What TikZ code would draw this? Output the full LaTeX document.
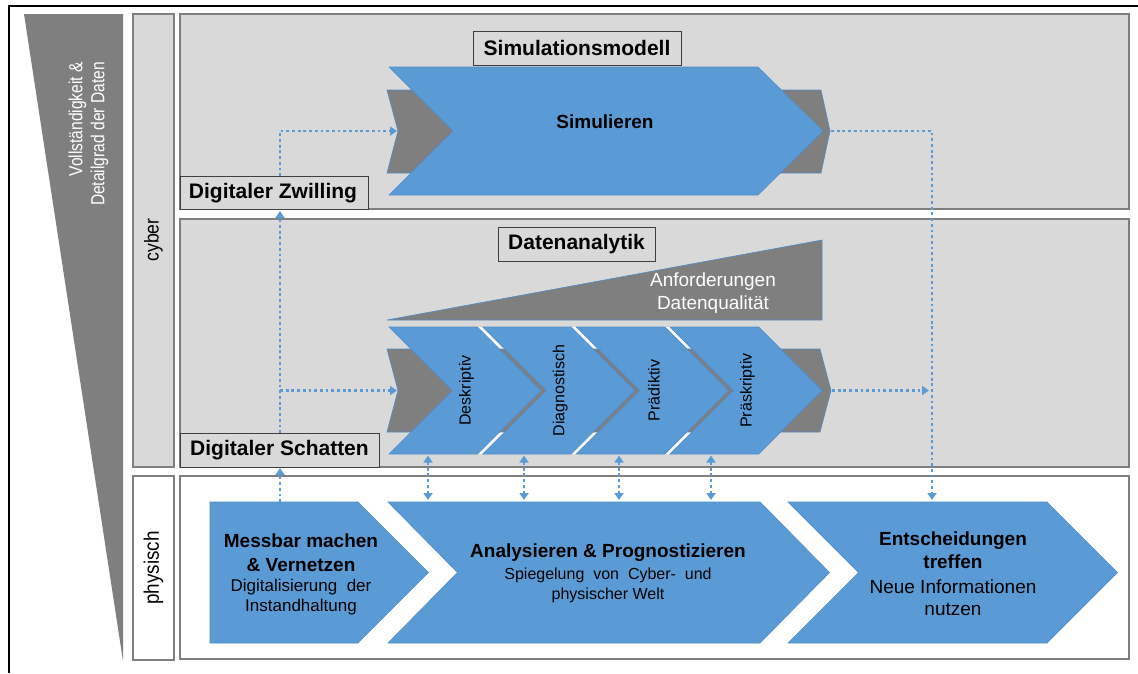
\documentclass[tikz,border=0pt]{standalone}
\usepackage{fontspec}
\setmainfont{Liberation Sans}
\usetikzlibrary{arrows.meta}

\definecolor{panelgray}{HTML}{D9D9D9}
\definecolor{edgegray}{HTML}{7F7F7F}
\definecolor{shapegray}{HTML}{7F7F7F}
\definecolor{chevblue}{HTML}{5B9BD5}
\definecolor{chevedge}{HTML}{4F8DC9}
\definecolor{boxedge}{HTML}{3F3F3F}

% narrow setting for the rotated side labels
\newcommand{\narrowtext}[2]{\scalebox{#1}[1]{\begin{tabular}{@{}r@{}}#2\end{tabular}}}

\tikzset{
  panel/.style={fill=panelgray, draw=edgegray, line width=1.2pt},
  wpanel/.style={fill=white, draw=edgegray, line width=1.2pt},
  labelbox/.style={fill=panelgray, draw=boxedge, line width=1pt},
  titletext/.style={font=\fontsize{21}{25}\selectfont\bfseries, inner sep=0pt},
  bluechev/.style={fill=chevblue, draw=chevedge, line width=0.6pt},
  graychev/.style={fill=shapegray, draw=chevedge, line width=0.6pt},
  boldtext/.style={font=\fontsize{19}{24}\selectfont\bfseries, align=center, inner sep=0pt},
  stagetext/.style={font=\fontsize{16}{19}\selectfont, rotate=90, inner sep=0pt},
  sidetext/.style={rotate=90, inner sep=0pt},
  flow/.style={draw=chevblue, line width=2.8pt, dash pattern=on 2.8pt off 2.9pt},
  flowtip/.style={flow, -{Triangle[width=9pt,length=7pt]}},
  flowboth/.style={flow, {Triangle[width=9pt,length=7pt]}-{Triangle[width=9pt,length=7pt]}},
}

\begin{document}
\begin{tikzpicture}[x=1pt, y=-1pt]
\useasboundingbox (0,0) rectangle (1138,673);

% outer frame
\draw[line width=2pt] (9,673) -- (9,6) -- (1138,6);

% wedge: completeness and level of detail of the data
\fill[shapegray] (24,14) -- (123,14) -- (123,661) -- cycle;
\node[sidetext, anchor=east, text=white,
      font=\fontsize{19}{22}\selectfont] (wedgelabel) at (89,62)
  {\narrowtext{0.82}{Vollständigkeit \&\\Detailgrad der Daten}};

% side labels
\draw[panel] (133,14) rectangle (174,467);
\node[sidetext, font=\fontsize{20}{22}\selectfont] (cyber) at (153.5,240) {\scalebox{0.88}[1]{cyber}};
\draw[wpanel] (133,476) rectangle (174,660);
\node[sidetext, font=\fontsize{21}{22}\selectfont] (physisch) at (153.5,568) {\scalebox{0.9}[1]{physisch}};

% layers
\draw[panel] (180,14) rectangle (1129,209);
\draw[panel] (180,219) rectangle (1129,467);
\draw[wpanel] (180,476) rectangle (1129,659);

% ---------- simulation layer ----------
\draw[labelbox] (473,31) rectangle (681,65);
\node[titletext] (simmodell) at (577,48) {Simulationsmodell};

\draw[graychev] (387,90) -- (821,90) -- (830,131) -- (821,173) -- (387,173) -- (398,131) -- cycle;
\draw[bluechev] (389,67) -- (758,67) -- (823,131) -- (758,195) -- (389,195) -- (453,131) -- cycle;
\node[boldtext] (simulieren) at (605,122) {Simulieren};

\draw[labelbox] (180,176) rectangle (368,209);
\node[titletext] (zwilling) at (273,193) {Digitaler Zwilling};

% ---------- analytics layer ----------
\draw[labelbox] (498,227) rectangle (655,261);
\node[titletext] (analytik) at (576.5,244) {Datenanalytik};

\fill[shapegray] (387,320) -- (822,240) -- (822,320) -- cycle;
\draw[chevedge, line width=0.6pt] (387,320) -- (822,240) -- (822,320) -- cycle;
\node[font=\fontsize{19}{23}\selectfont, align=center, text=white, inner sep=0pt]
  (anforderung) at (713,293.5) {Anforderungen\\Datenqualität};

\fill[white!92!panelgray] (389,327) -- (758,327) -- (822,390.5) -- (758,454) -- (389,454) -- (453,390.5) -- cycle;
\draw[graychev] (387,349) -- (820,349) -- (831,390.5) -- (820,432) -- (387,432) -- (398,390.5) -- cycle;
\foreach \k/\lbl in {0/Deskriptiv, 1/Diagnostisch, 2/Prädiktiv, 3/Präskriptiv} {
  \pgfmathsetmacro{\xa}{389+93.7*\k}
  \draw[bluechev] (\xa,327) -- (\xa+88.5,327) -- (\xa+152,390.5) -- (\xa+88.5,454)
        -- (\xa,454) -- (\xa+63.5,390.5) -- cycle;
  \node[stagetext] (stage\k) at (\xa+77.5,390.5) {\lbl};
}

\draw[labelbox] (180,433) rectangle (379,467);
\node[titletext] (schatten) at (279.5,450) {Digitaler Schatten};

% ---------- physical layer ----------
\draw[bluechev] (210,502) -- (358,502) -- (428.5,572.5) -- (358,643) -- (210,643) -- cycle;
\node[boldtext] (messbar) at (301,553) {Messbar machen\\\& Vernetzen};
\node[font=\fontsize{17}{20}\selectfont, align=center, inner sep=0pt] (messbarsub) at (301,597.5)
  {Digitalisierung\ \ der\\Instandhaltung};

\draw[bluechev] (388,502) -- (760,502) -- (829.5,572.5) -- (760,643) -- (388,643) -- (457.5,572.5) -- cycle;
\node[boldtext] (analysieren) at (608,553) {Analysieren \& Prognostizieren};
\node[font=\fontsize{16}{20}\selectfont, align=center, inner sep=0pt] (analysierensub) at (608,585.5)
  {Spiegelung\ \ von\ \ Cyber-\ \ und\\physischer Welt};

\draw[bluechev] (788,502) -- (1047,502) -- (1117.5,572.5) -- (1047,643) -- (788,643) -- (858.5,572.5) -- cycle;
\node[boldtext, font=\fontsize{19}{23}\selectfont\bfseries] (entscheiden) at (953,550.5) {Entscheidungen\\treffen};
\node[font=\fontsize{19}{22}\selectfont, align=center, inner sep=0pt] (entscheidensub) at (953,597.5)
  {Neue Informationen\\nutzen};

% ---------- connection points ----------
\coordinate (messTop) at (280,502);
\coordinate (midBottom) at (280,468);
\coordinate (schattenTop) at (280,433);
\coordinate (topBottom) at (280,211);
\coordinate (zwillingTop) at (280,176);
\coordinate (simBend) at (280,131);
\coordinate (simIn) at (397,131);
\coordinate (anaBranch) at (280,390.5);
\coordinate (anaIn) at (397,390.5);
\coordinate (simOut) at (831,131);
\coordinate (outBend) at (932,131);
\coordinate (entTop) at (932,500);
\coordinate (anaOut) at (832,390.5);
\coordinate (anaJoin) at (929,390.5);

% ---------- data flows ----------
\draw[flowtip] (messTop) -- (midBottom);
\draw[flowtip] (schattenTop) -- (topBottom);
\draw[flowtip] (zwillingTop) -- (simBend) -- (simIn);
\draw[flowtip] (anaBranch) -- (anaIn);
\draw[flowtip] (simOut) -- (outBend) -- (entTop);
\draw[flowtip] (anaOut) -- (anaJoin);
\foreach \xb [count=\i] in {428,524,619,711} {
  \coordinate (up\i) at (\xb,455.5);
  \coordinate (down\i) at (\xb,500);
  \draw[flowboth] (up\i) -- (down\i);
}
\end{tikzpicture}
\end{document}
